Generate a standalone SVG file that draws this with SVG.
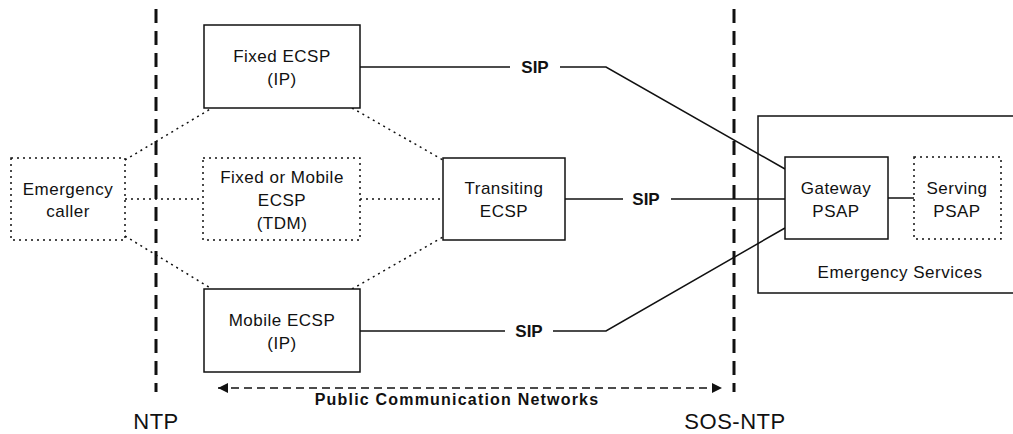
<svg xmlns="http://www.w3.org/2000/svg" width="1013" height="434" viewBox="0 0 1013 434">
  <defs>
    <style>
      .box { fill: #fff; stroke: #111; stroke-width: 1.5; }
      .dbox { fill: #fff; stroke: #111; stroke-width: 1.5; stroke-dasharray: 2 4; }
      .lbl { font-family: "Liberation Sans", Arial, sans-serif; font-size: 17px; letter-spacing: 0.5px; fill: #111; text-anchor: middle; }
      .sip { font-family: "Liberation Sans", Arial, sans-serif; font-size: 17px; font-weight: bold; fill: #111; text-anchor: middle; }
      .pcn { font-family: "Liberation Sans", Arial, sans-serif; font-size: 16px; font-weight: bold; letter-spacing: 1.2px; fill: #111; text-anchor: middle; }
      .big { font-family: "Liberation Sans", Arial, sans-serif; font-size: 22px; letter-spacing: 0.5px; fill: #111; text-anchor: middle; }
      .link { fill: none; stroke: #111; stroke-width: 1.5; }
      .dot { fill: none; stroke: #111; stroke-width: 1.5; stroke-dasharray: 2 4; }
      .border { fill: none; stroke: #111; stroke-width: 3; stroke-dasharray: 14 8; }
      .span { fill: none; stroke: #111; stroke-width: 1.5; stroke-dasharray: 8 5; }
    </style>
    <marker id="ah" viewBox="0 0 10 10" refX="10" refY="5" markerWidth="12" markerHeight="10" markerUnits="userSpaceOnUse" orient="auto-start-reverse">
      <path d="M0,0 L10,5 L0,10 z" fill="#111"/>
    </marker>
  </defs>
  <rect width="1013" height="434" fill="#fff"/>

  <!-- network termination borders -->
  <g id="borders">
    <line class="border" x1="156" y1="9" x2="156" y2="392"/>
    <line class="border" x1="734" y1="9" x2="734" y2="392"/>
    <text class="big" x="156" y="429">NTP</text>
    <text class="big" x="735" y="429">SOS-NTP</text>
  </g>

  <!-- emergency services domain -->
  <g id="emergency-services">
    <rect class="box" x="758" y="116" width="270" height="177"/>
    <text class="lbl" x="900" y="278">Emergency Services</text>
  </g>

  <g id="connectors">
    <!-- dotted access links -->
    <line class="dot" x1="125" y1="160" x2="212" y2="108"/>
    <line class="dot" x1="125" y1="199" x2="203" y2="199"/>
    <line class="dot" x1="125" y1="236" x2="212" y2="289"/>
    <line class="dot" x1="352" y1="108" x2="443" y2="160"/>
    <line class="dot" x1="360" y1="199" x2="443" y2="199"/>
    <line class="dot" x1="352" y1="289" x2="443" y2="237"/>
    <!-- SIP links -->
    <line class="link" x1="360" y1="67" x2="510" y2="67"/>
    <polyline class="link" points="560,67 606,67 785,169"/>
    <line class="link" x1="565" y1="199" x2="623" y2="199"/>
    <line class="link" x1="671" y1="199" x2="785" y2="199"/>
    <line class="link" x1="360" y1="331" x2="505" y2="331"/>
    <polyline class="link" points="553,331 606,331 785,228"/>
    <line class="link" x1="888" y1="198" x2="914" y2="198"/>
    <text class="sip" x="535" y="73">SIP</text>
    <text class="sip" x="646" y="205">SIP</text>
    <text class="sip" x="529" y="337">SIP</text>
    <!-- public network span -->
    <line class="span" x1="218" y1="388" x2="722" y2="388" marker-start="url(#ah)" marker-end="url(#ah)"/>
    <text class="pcn" x="457" y="405">Public Communication Networks</text>
  </g>

  <g id="caller">
    <rect class="dbox" x="11" y="158" width="114" height="82"/>
    <text class="lbl" x="68" y="195">Emergency</text>
    <text class="lbl" x="68" y="217">caller</text>
  </g>

  <g id="fixed-ecsp">
    <rect class="box" x="204" y="25" width="156" height="83"/>
    <text class="lbl" x="282" y="62">Fixed ECSP</text>
    <text class="lbl" x="282" y="85">(IP)</text>
  </g>

  <g id="tdm-ecsp">
    <rect class="dbox" x="203" y="158" width="157" height="82"/>
    <text class="lbl" x="282" y="183">Fixed or Mobile</text>
    <text class="lbl" x="282" y="206">ECSP</text>
    <text class="lbl" x="282" y="229">(TDM)</text>
  </g>

  <g id="mobile-ecsp">
    <rect class="box" x="204" y="289" width="156" height="83"/>
    <text class="lbl" x="282" y="326">Mobile ECSP</text>
    <text class="lbl" x="282" y="349">(IP)</text>
  </g>

  <g id="transiting-ecsp">
    <rect class="box" x="443" y="158" width="122" height="82"/>
    <text class="lbl" x="504" y="194">Transiting</text>
    <text class="lbl" x="504" y="217">ECSP</text>
  </g>

  <g id="gateway-psap">
    <rect class="box" x="785" y="157" width="103" height="82"/>
    <text class="lbl" x="836" y="194">Gateway</text>
    <text class="lbl" x="836" y="217">PSAP</text>
  </g>

  <g id="serving-psap">
    <rect class="dbox" x="914" y="157" width="87" height="82"/>
    <text class="lbl" x="957" y="194">Serving</text>
    <text class="lbl" x="957" y="217">PSAP</text>
  </g>
</svg>
